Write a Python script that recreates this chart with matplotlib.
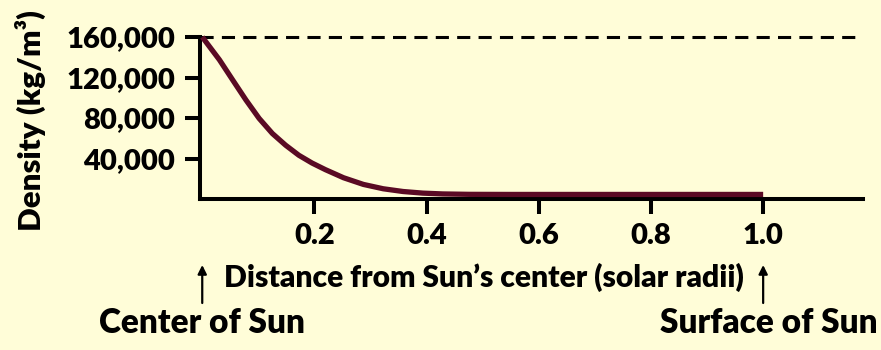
"""
Density of the Sun vs distance from its center.
"""

import matplotlib
matplotlib.use("Agg")
import matplotlib.pyplot as plt

# values
radius = [0.0, 0.0306, 0.0542, 0.0779, 0.1014, 0.125, 0.1487, 0.1722, 0.1958, 0.2195,
          0.2519, 0.2873, 0.3227, 0.358, 0.3934, 0.4288, 0.476, 0.55, 0.7, 0.85, 1.0]
density = [160000, 137500, 117600, 97800, 79600, 64700, 53100, 43200, 35500, 29000,
           21000, 14400, 10100, 7400, 5800, 5000, 4600, 4500, 4500, 4500, 4500]
core_density = 160000
y_ticks = [40000, 80000, 120000, 160000]
x_ticks = [0.2, 0.4, 0.6, 0.8, 1.0]

bg = "#fffdd8"
curve_color = "#5a0a24"

plt.rcParams["font.family"] = "Lato"
plt.rcParams["font.weight"] = "heavy"
plt.rcParams["axes.labelweight"] = "heavy"
plt.rcParams["font.size"] = 21

fig = plt.figure(figsize=(8.81, 3.5), dpi=100, facecolor=bg)
ax = fig.add_axes([200 / 881, 151 / 350, 663 / 881, 162 / 350], facecolor=bg)

ax.plot(radius, density, color=curve_color, lw=3.8, solid_capstyle="butt",
        solid_joinstyle="round", zorder=3, clip_on=False)
ax.axhline(core_density, color="black", lw=2.2, ls=(0, (4.3, 2.7)), clip_on=False, zorder=2)

ax.set_xlim(-0.004, 1.178)
ax.set_ylim(0, 160000)

for side in ("top", "right"):
    ax.spines[side].set_visible(False)
for side in ("left", "bottom"):
    ax.spines[side].set_linewidth(2.9)

ax.set_xticks(x_ticks)
ax.set_xticklabels([f"{v:.1f}" for v in x_ticks])
ax.set_yticks(y_ticks)
ax.set_yticklabels([f"{v:,}" for v in y_ticks])
ax.tick_params(axis="both", direction="out", length=11, width=2.9, colors="black")
ax.tick_params(axis="x", pad=6)
ax.tick_params(axis="y", pad=7)

ax.set_xlabel("Distance from Sun\u2019s center (solar radii)", fontsize=21.6)
ax.xaxis.set_label_coords((484 - 200) / 663, -(277 - 199) / 162)
ax.xaxis.label.set_va("center")

ax.set_ylabel("Density (kg/m\u00b3)", fontsize=22.5)
ax.yaxis.set_label_coords((30 - 200) / 663, (199 - 121) / 162)
ax.yaxis.label.set_va("center")

# arrows pointing at the center and the surface
for xpos in (0.0, 1.0):
    ax.annotate("", xy=(xpos, 85), xytext=(xpos, 47),
                xycoords=("data", "figure pixels"), textcoords=("data", "figure pixels"),
                arrowprops=dict(arrowstyle="-|>", lw=1.6, color="black",
                                mutation_scale=13, shrinkA=0, shrinkB=0))

ax.annotate("Center of Sun", xy=(0.0, 27), xycoords=("data", "figure pixels"),
            ha="center", va="center", fontsize=24)
ax.annotate("Surface of Sun", xy=(1.01, 27), xycoords=("data", "figure pixels"),
            ha="center", va="center", fontsize=24)

fig.savefig("out.png", dpi=100, facecolor=bg)
